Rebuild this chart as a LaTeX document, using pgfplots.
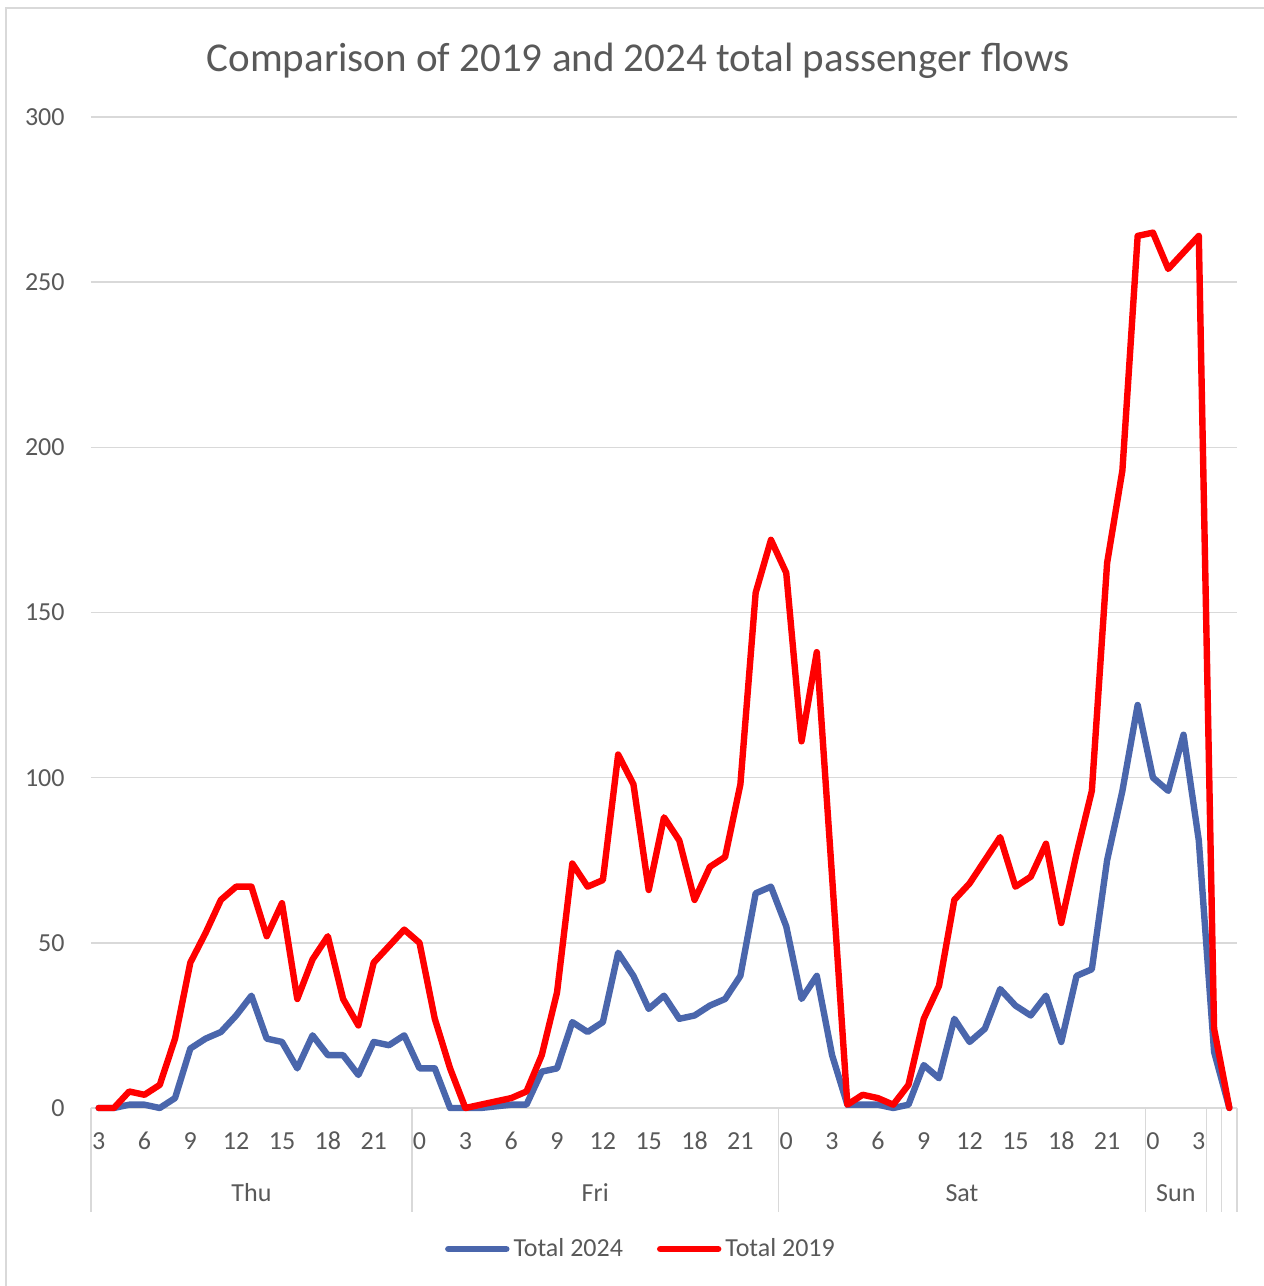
\documentclass[border=0pt]{standalone}
\usepackage{fontspec}
\setmainfont{Carlito}
\usepackage{pgfplots}
\usepackage{pgfplotstable}
\pgfplotsset{compat=1.18}

\definecolor{txtgray}{HTML}{595959}
\definecolor{gridgray}{HTML}{D9D9D9}
\definecolor{blueTwentyFour}{HTML}{4A66AC}
\definecolor{redNineteen}{HTML}{FF0000}

% hourly totals, Thu 03:00 to Sun 03:00 and two trailing slots
\pgfplotstableread{
idx t2024 t2019
0   0    0
1   0    0
2   1    5
3   1    4
4   0    7
5   3    21
6   18   44
7   21   53
8   23   63
9   28   67
10  34   67
11  21   52
12  20   62
13  12   33
14  22   45
15  16   52
16  16   33
17  10   25
18  20   44
19  19   49
20  22   54
21  12   50
22  12   27
23  0    12
24  0    0
25  0    1
26  0.5  2
27  1    3
28  1    5
29  11   16
30  12   35
31  26   74
32  23   67
33  26   69
34  47   107
35  40   98
36  30   66
37  34   88
38  27   81
39  28   63
40  31   73
41  33   76
42  40   98
43  65   156
44  67   172
45  55   162
46  33   111
47  40   138
48  16   70
49  1    1
50  1    4
51  1    3
52  0    1
53  1    7
54  13   27
55  9    37
56  27   63
57  20   68
58  24   75
59  36   82
60  31   67
61  28   70
62  34   80
63  20   56
64  40   77
65  42   96
66  75   165
67  96   193
68  122  264
69  100  265
70  96   254
71  113  259
72  81   264
73  17   24
74  0    0
}\flows

\newcommand{\lblfont}{\fontsize{13}{15}\selectfont}

\begin{document}
\begin{tikzpicture}
% chart frame
\draw[gridgray, line width=0.75pt] (3pt,-5pt) -- (3pt,639pt) -- (640pt,639pt);

\begin{axis}[
  at={(45.5pt,89pt)}, anchor=south west,
  scale only axis, width=573pt, height=495.5pt,
  xmin=-0.5, xmax=74.5, ymin=0, ymax=300,
  axis x line*=bottom, axis y line*=left,
  y axis line style={draw=none},
  x axis line style={gridgray, line width=0.75pt},
  ytick={0,50,...,300},
  ymajorgrids, grid style={gridgray, line width=0.75pt},
  major tick length=0pt,
  xtick={0,3,...,72},
  xticklabels={3,6,9,12,15,18,21,0,3,6,9,12,15,18,21,0,3,6,9,12,15,18,21,0,3},
  /pgf/number format/assume math mode=true,
  tick label style={font=\lblfont, text=txtgray},
  xticklabel style={anchor=center, yshift=-16.5pt},
  yticklabel style={anchor=east, inner sep=0pt, xshift=-13pt},
  clip=false,
  legend columns=2,
  legend style={at={(0.4808,-0.1423)}, anchor=center, draw=none, fill=none,
    font=\lblfont, text=txtgray, inner sep=0pt,
    /tikz/every even column/.append style={column sep=15pt}},
  legend image code/.code={\draw[#1, line cap=round] (0pt,0pt) -- (29pt,0pt);},
]
\addplot[blueTwentyFour, line width=3.2pt, line join=round, line cap=round]
  table[x=idx, y=t2024] {\flows};
\addlegendentry{Total 2024}
\addplot[redNineteen, line width=3.2pt, line join=round, line cap=round]
  table[x=idx, y=t2019] {\flows};
\addlegendentry{Total 2019}

% day separators on the category axis
\pgfplotsinvokeforeach{-0.5,20.5,44.5,68.5,72.5,73.5,74.5}{
  \draw[gridgray, line width=0.75pt] (axis cs:#1,0) -- ([yshift=-52pt]axis cs:#1,0);
}
% day labels
\node[font=\lblfont, text=txtgray] at ([yshift=-42.5pt]axis cs:10,0) {Thu};
\node[font=\lblfont, text=txtgray] at ([yshift=-42.5pt]axis cs:32.5,0) {Fri};
\node[font=\lblfont, text=txtgray] at ([yshift=-42.5pt]axis cs:56.5,0) {Sat};
\node[font=\lblfont, text=txtgray] at ([yshift=-42.5pt]axis cs:70.5,0) {Sun};
\end{axis}

\node[font=\fontsize{20.5}{24}\selectfont, text=txtgray] at (319pt,612.5pt)
  {Comparison of 2019 and 2024 total passenger flows};

\pgfresetboundingbox
\useasboundingbox (0,0) rectangle (632pt,643pt);
\end{tikzpicture}
\end{document}
